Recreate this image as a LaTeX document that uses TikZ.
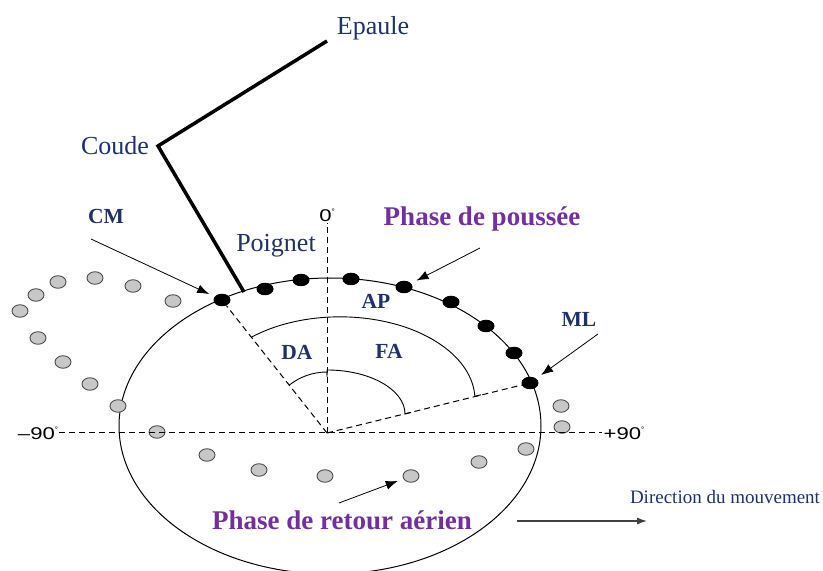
\documentclass[tikz,border=0pt]{standalone}
\usepackage{fontspec}
\setmainfont{Liberation Serif}
\newfontfamily\labelsans{Liberation Sans}
\usetikzlibrary{arrows.meta,shapes,positioning,calc}
\definecolor{navyblue}{RGB}{30,50,105}
\definecolor{phasepurple}{RGB}{112,48,160}
\newcommand{\degsign}{\raisebox{.8ex}{\fontsize{8}{8}\selectfont °}}
\newcommand{\widedeg}[1]{\scalebox{1.3}[1]{#1}\degsign}

\begin{document}
\begin{tikzpicture}[x=1pt,y=1pt,
  bdot/.style={ellipse,fill=black,minimum width=17pt,minimum height=12.5pt,inner sep=0pt},
  gdot/.style={ellipse,draw=black!70,fill=black!22,line width=0.9pt,minimum width=16pt,minimum height=12.5pt,inner sep=0pt},
  lbl/.style={text=navyblue,font=\fontsize{26}{28}\selectfont},
  blbl/.style={text=navyblue,font=\bfseries\fontsize{21.5}{24}\selectfont},
  phase/.style={text=phasepurple,font=\bfseries\fontsize{27}{30}\selectfont},
  deg/.style={font=\labelsans\fontsize{17}{18}\selectfont,inner sep=1pt},
  pointer/.style={-{Latex[length=12pt,width=9pt]},line width=0.8pt,shorten >=6pt},
  guide/.style={dash pattern=on 6pt off 4pt,line width=1pt}]
\useasboundingbox (0,0) rectangle (823,571);

% Wrist path
\draw[line width=1pt] (330,145) ellipse [x radius=211pt,y radius=148pt];

% Dots: push phase (black), recovery phase (grey)
\foreach \x/\y [count=\i] in {222/271,265/282,301/291,351/292,404/284,451/269,486/245,514/218,530/188}
  \node[bdot] (b\i) at (\x,\y) {};
\foreach \x/\y [count=\i] in {20/260,36/276,58/289,95/293,133/285,173/270,38/233,63/209,90/187,118/165,157/139,207/116,259/101,325/95,411/95,479/109,526/122,562/144,561/165}
  \node[gdot] (g\i) at (\x,\y) {};

% Axes
\coordinate (O) at (327,138);
\node[deg] (zero) at (327,356) {\widedeg{0}};
\node[deg] (m90) at (38,138) {\widedeg{–90}};
\node[deg] (p90) at (624,138) {\widedeg{+90}};
\draw[guide] (m90.east) -- (p90.west);
\draw[guide] (O) -- (zero.south);
\draw[guide] (O) -- (b1);
\draw[guide] (O) -- (b9);

% Angles
\draw[line width=0.9pt] ($(O)+(128.3:61)$) arc[start angle=128.3,end angle=90,radius=61pt] -- ++(0,-5);
\draw[line width=0.9pt] (327,196) -- (327,201) arc[start angle=90,end angle=0,x radius=78pt,y radius=44pt] -- ++(6,1.5);
\draw[line width=0.9pt] (251.4,233.8) arc[start angle=131,end angle=2.4,x radius=135pt,y radius=83pt] -- ++(6,1.5);

% Arm
\coordinate (sh) at (327,530);
\coordinate (el) at (158,425);
\coordinate (wr) at (244,279);
\draw[line width=3.5pt] (sh) -- (el) -- (wr);
\node[lbl] (epaule) at (373,543) {Epaule};
\node[lbl] (coude) at (115,425) {Coude};
\node[lbl] (poignet) at (276,325) {Poignet};

% Labels
\node[blbl] (cm) at (106,355) {CM};
\node[blbl] (ap) at (376,270) {AP};
\node[blbl] (da) at (297,219) {DA};
\node[blbl] (fa) at (389,220) {FA};
\node[blbl] (ml) at (579,252) {ML};
\node[phase] (poussee) at (482,352) {Phase de poussée};
\node[phase] (retour) at (342,51) {Phase de retour aérien};
\node[text=navyblue,font=\fontsize{19}{21}\selectfont] (direction) at (725,74) {Direction du mouvement};

% Pointers
\coordinate (cmtail) at (91,332);
\coordinate (pptail) at (480,323);
\coordinate (mltail) at (598,237);
\coordinate (rttail) at (339,68);
\draw[pointer] (cmtail) -- (b1);
\draw[pointer] (pptail) -- (b5);
\draw[pointer] (mltail) -- (b9);
\draw[pointer] (rttail) -- (g15);
\coordinate (dirtail) at (517,50);
\coordinate (dirhead) at (647,50);
\draw[-{Latex[length=10pt,width=7pt]},line width=1.2pt,black!75] (dirtail) -- (dirhead);
\end{tikzpicture}
\end{document}
